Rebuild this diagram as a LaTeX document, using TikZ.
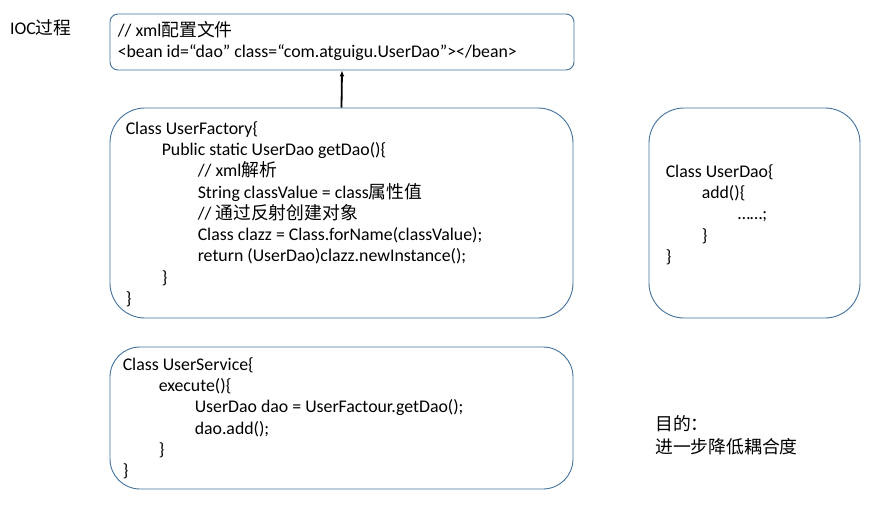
\documentclass[tikz,border=0pt]{standalone}
\usepackage{fontspec}
\setmainfont{Carlito}
\newfontfamily\cjk{Noto Sans CJK SC}
\usepackage{tikz}
\usetikzlibrary{arrows.meta,positioning}

\definecolor{boxblue}{RGB}{65,113,156}

\begin{document}
\begin{tikzpicture}[x=1pt,y=-1pt,
    box/.style={draw=boxblue, line width=0.9pt, rectangle, inner sep=0pt},
    code/.style={align=left, inner sep=0pt, font=\fontsize{17.8}{21.3}\selectfont},
    arr/.style={-{Latex[length=6pt,width=5pt]}, line width=1.8pt}]

\useasboundingbox (0,0) rectangle (889,507);

% the four boxes
\node[box, rounded corners=8pt, minimum width=464pt, minimum height=56pt] (xml) at (342,42) {};
\node[box, rounded corners=35pt, minimum width=463pt, minimum height=210pt] (fac) at (341.5,213) {};
\node[box, rounded corners=35pt, minimum width=211pt, minimum height=210pt] (dao) at (754.5,213) {};
\node[box, rounded corners=30pt, minimum width=463pt, minimum height=142pt] (srv) at (341.5,418) {};

\draw[arr] (fac.north) -- (xml.south);

\node[code, anchor=west] (ioc) at (10,28) {IOC{\cjk 过程}};

\node[code, below right=7.5pt and 8pt of xml.north west] (xmltext) {\strut// xml{\cjk 配置文件}\\
<bean id=“dao” class=“com.atguigu.UserDao”></bean>};

\node[code, below right=11.5pt and 16pt of fac.north west] (factext) {\strut Class UserFactory\{\\
\hspace*{36pt}Public static UserDao getDao()\{\\
\hspace*{72pt}// xml{\cjk 解析}\\
\hspace*{72pt}String classValue = class{\cjk 属性值}\\
\hspace*{72pt}// {\cjk 通过反射创建对象}\\
\hspace*{72pt}Class clazz = Class.forName(classValue);\\
\hspace*{72pt}return (UserDao)clazz.newInstance();\\
\hspace*{36pt}\}\\
\}};

\node[code, below right=54.5pt and 17pt of dao.north west] (daotext) {\strut Class UserDao\{\\
\hspace*{36pt}add()\{\\
\hspace*{72pt}……;\\
\hspace*{36pt}\}\\
\}};

\node[code, below right=8.5pt and 13pt of srv.north west] (srvtext) {\strut Class UserService\{\\
\hspace*{36pt}execute()\{\\
\hspace*{72pt}UserDao dao = UserFactour.getDao();\\
\hspace*{72pt}dao.add();\\
\hspace*{36pt}\}\\
\}};

\node[code, anchor=north west] (goal) at (655,415.5) {\strut{\cjk 目的：}\\
{\cjk 进一步降低耦合度}};

\end{tikzpicture}
\end{document}
